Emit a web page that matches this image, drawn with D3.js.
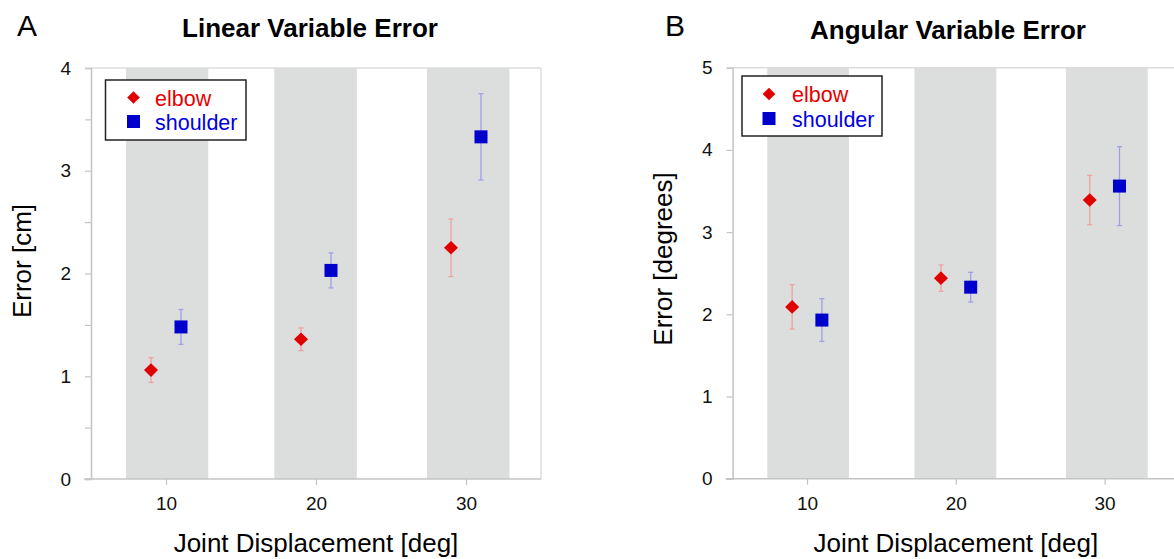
<!DOCTYPE html>
<html>
<head>
<meta charset="utf-8">
<script src="https://cdn.jsdelivr.net/npm/d3@7"></script>
<style>
  html, body { margin: 0; padding: 0; background: #fff; }
  svg { display: block; }
  text { font-family: "Liberation Sans", Arial, sans-serif; }
</style>
</head>
<body>
<svg id="chart" width="1174" height="559"></svg>
<script>
// ---------------- data ----------------
const categories = [10, 20, 30];
const xTickValues = [10, 20, 30];
const bandRanges = [[7.33, 12.82], [17.22, 22.72], [27.4, 32.9]];
const seriesNames = ["elbow", "shoulder"];
const seriesOffsets = [-1, 1];

const linearElbow = [1.06, 1.36, 2.25];
const linearElbowErr = [0.12, 0.11, 0.28];
const linearShoulder = [1.48, 2.03, 3.33];
const linearShoulderErr = [0.17, 0.17, 0.42];
const linearTicks = [0, 1, 2, 3, 4];
const linearMinorTicks = [0.5, 1.5, 2.5, 3.5];

const angularElbow = [2.09, 2.44, 3.39];
const angularElbowErr = [0.27, 0.16, 0.30];
const angularShoulder = [1.93, 2.33, 3.56];
const angularShoulderErr = [0.26, 0.18, 0.48];
const angularTicks = [0, 1, 2, 3, 4, 5];
const angularMinorTicks = [];

// ---------------- styles ----------------
const markerColors = ["#e00000", "#0000cc"];
const errColors = ["#f0a0a0", "#a0a0e8"];
const textColors = ["#e40000", "#0000e0"];

const svg = d3.select("#chart");

const panels = [
  {
    letter: "A", letterX: 17, title: "Linear Variable Error", titleX: 310, titleY: 37,
    yLabel: "Error [cm]", yLabelX: 31, yLabelY: 261,
    x0: 91, x1: 541, yTop: 68, yBot: 479, yMax: 4,
    ticks: linearTicks, minor: linearMinorTicks,
    values: [linearElbow, linearShoulder], errs: [linearElbowErr, linearShoulderErr],
    legend: { x: 105.5, y: 80, w: 140.5, h: 60, mx: 133.5, my: [97.5, 121.5], tx: 155, ty: [106, 129.5] }
  },
  {
    letter: "B", letterX: 665, title: "Angular Variable Error", titleX: 948, titleY: 38.5,
    yLabel: "Error [degrees]", yLabelX: 672, yLabelY: 259,
    x0: 732.6, x1: 1179, yTop: 67.7, yBot: 478.7, yMax: 5,
    ticks: angularTicks, minor: angularMinorTicks,
    values: [angularElbow, angularShoulder], errs: [angularElbowErr, angularShoulderErr],
    legend: { x: 742, y: 76, w: 140, h: 60, mx: 769, my: [94, 118.5], tx: 792, ty: [101.5, 126.5] }
  }
];

function marker(sel, i, cx, cy) {
  if (i === 0) {
    const w = 7, h = 6.8;
    sel.append("path")
      .attr("d", `M${cx},${cy - h}L${cx + w},${cy}L${cx},${cy + h}L${cx - w},${cy}Z`)
      .attr("fill", markerColors[0]);
  } else {
    const s = 13;
    sel.append("rect")
      .attr("x", cx - s / 2).attr("y", cy - s / 2)
      .attr("width", s).attr("height", s)
      .attr("fill", markerColors[1]);
  }
}

panels.forEach(p => {
  const g = svg.append("g");
  const x = d3.scaleLinear().domain([5, 35]).range([p.x0, p.x1]);
  const y = d3.scaleLinear().domain([0, p.yMax]).range([p.yBot, p.yTop]);

  // bands
  g.selectAll("rect.band").data(bandRanges).join("rect")
    .attr("class", "band")
    .attr("x", d => x(d[0])).attr("width", d => x(d[1]) - x(d[0]))
    .attr("y", y(p.yMax)).attr("height", y(0) - y(p.yMax))
    .attr("fill", "#dcdddd");

  // frame top & right
  g.append("line").attr("x1", x(5)).attr("x2", x(35))
    .attr("y1", y(p.yMax)).attr("y2", y(p.yMax))
    .attr("stroke", "#dcdcdc").attr("stroke-width", 1.5);
  g.append("line").attr("x1", x(35)).attr("x2", x(35))
    .attr("y1", y(p.yMax)).attr("y2", y(0))
    .attr("stroke", "#dcdcdc").attr("stroke-width", 1.5);

  // y axis
  const yAxis = d3.axisLeft(y).tickValues(p.ticks).tickSize(6).tickPadding(14)
    .tickFormat(d3.format("d"));
  const ya = g.append("g").attr("transform", `translate(${p.x0},0)`).call(yAxis);
  ya.select(".domain").attr("stroke", "#c4c4c4").attr("stroke-width", 1.5);
  ya.selectAll(".tick line").attr("stroke", "#c4c4c4").attr("stroke-width", 1.2);
  ya.selectAll(".tick text").attr("font-size", 19).attr("fill", "#111")
    .attr("font-family", "Liberation Sans, Arial, sans-serif");
  if (p.minor.length) {
    const ym = d3.axisLeft(y).tickValues(p.minor).tickSize(6).tickFormat("");
    const ymg = g.append("g").attr("transform", `translate(${p.x0},0)`).call(ym);
    ymg.select(".domain").remove();
    ymg.selectAll(".tick line").attr("stroke", "#c4c4c4").attr("stroke-width", 1.2);
  }

  // x axis
  const xAxis = d3.axisBottom(x).tickValues(xTickValues).tickSize(6).tickPadding(12)
    .tickFormat(d3.format("d"));
  const xa = g.append("g").attr("transform", `translate(0,${p.yBot})`).call(xAxis);
  xa.select(".domain").attr("stroke", "#c4c4c4").attr("stroke-width", 1.5)
    .attr("d", `M${p.x0 - 7},0H${p.x1}`);
  xa.selectAll(".tick line").attr("stroke", "#c4c4c4").attr("stroke-width", 1.2);
  xa.selectAll(".tick text").attr("font-size", 19).attr("fill", "#111")
    .attr("font-family", "Liberation Sans, Arial, sans-serif");

  // error bars + markers
  p.values.forEach((vals, si) => {
    vals.forEach((v, ci) => {
      const cx = x(categories[ci] + seriesOffsets[si]);
      const e = p.errs[si][ci];
      const top = y(v + e), bot = y(v - e);
      g.append("line").attr("x1", cx).attr("x2", cx).attr("y1", top).attr("y2", bot)
        .attr("stroke", errColors[si]).attr("stroke-width", 1.3);
      [top, bot].forEach(yy => g.append("line")
        .attr("x1", cx - 2.5).attr("x2", cx + 2.5).attr("y1", yy).attr("y2", yy)
        .attr("stroke", errColors[si]).attr("stroke-width", 1.3));
    });
  });
  p.values.forEach((vals, si) => {
    vals.forEach((v, ci) => {
      marker(g, si, x(categories[ci] + seriesOffsets[si]), y(v));
    });
  });

  // legend
  const L = p.legend;
  g.append("rect").attr("x", L.x).attr("y", L.y).attr("width", L.w).attr("height", L.h)
    .attr("fill", "#fff").attr("stroke", "#222").attr("stroke-width", 1.5);
  seriesNames.forEach((name, si) => {
    if (si === 0) {
      const w = 6.3, h = 6.3, cx = L.mx, cy = L.my[0];
      g.append("path")
        .attr("d", `M${cx},${cy - h}L${cx + w},${cy}L${cx},${cy + h}L${cx - w},${cy}Z`)
        .attr("fill", markerColors[0]);
    } else {
      g.append("rect").attr("x", L.mx - 6.5).attr("y", L.my[1] - 6.5)
        .attr("width", 13).attr("height", 13).attr("fill", markerColors[1]);
    }
    g.append("text").attr("x", L.tx).attr("y", L.ty[si])
      .attr("font-size", 21.5).attr("fill", textColors[si]).text(name);
  });

  // titles & labels
  g.append("text").attr("x", p.titleX).attr("y", p.titleY)
    .attr("text-anchor", "middle").attr("font-size", 26).attr("font-weight", "bold")
    .attr("fill", "#000").text(p.title);
  g.append("text").attr("x", p.letterX).attr("y", 36)
    .attr("font-size", 30).attr("fill", "#000").text(p.letter);
  g.append("text")
    .attr("transform", `translate(${p.yLabelX},${p.yLabelY}) rotate(-90)`)
    .attr("text-anchor", "middle").attr("font-size", 26).attr("fill", "#000")
    .text(p.yLabel);
  g.append("text").attr("x", (p.x0 + p.x1) / 2).attr("y", 552)
    .attr("text-anchor", "middle").attr("font-size", 26).attr("fill", "#000")
    .text("Joint Displacement [deg]");
});
</script>
</body>
</html>
